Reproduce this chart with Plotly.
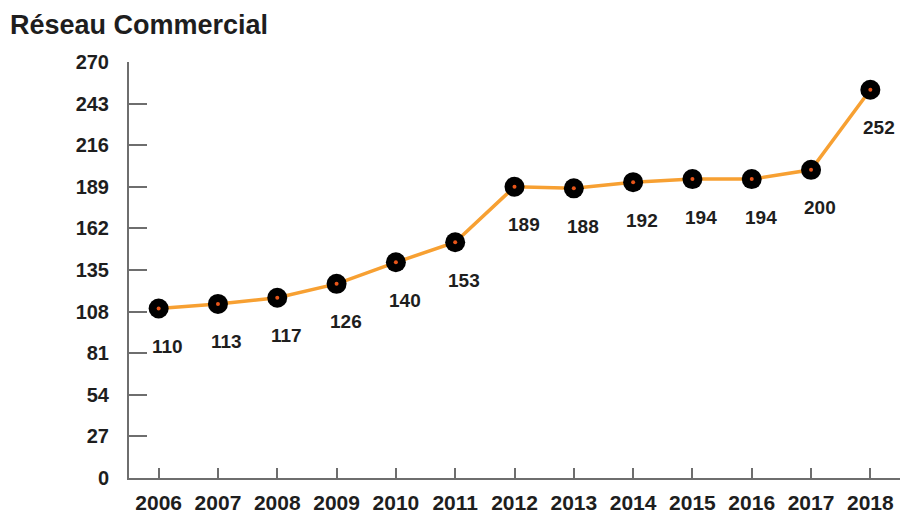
import plotly.graph_objects as go

years = [2006, 2007, 2008, 2009, 2010, 2011, 2012, 2013, 2014, 2015, 2016, 2017, 2018]
agencies = [110, 113, 117, 126, 140, 153, 189, 188, 192, 194, 194, 200, 252]
y_ticks = [0, 27, 54, 81, 108, 135, 162, 189, 216, 243, 270]

FONT = "Liberation Sans, Arial, sans-serif"
AXIS_COLOR = "#6e6e6e"
LINE_COLOR = "#f7a032"
TEXT_COLOR = "#1e1e1e"

fig = go.Figure()

# Orange connecting line
fig.add_trace(go.Scatter(
    x=years, y=agencies, mode="lines",
    line=dict(color=LINE_COLOR, width=3.5),
    hoverinfo="skip", cliponaxis=False,
))
# Black round markers
fig.add_trace(go.Scatter(
    x=years, y=agencies, mode="markers",
    marker=dict(color="black", size=20, line=dict(width=0)),
    cliponaxis=False,
))
# Small orange centre dots
fig.add_trace(go.Scatter(
    x=years, y=agencies, mode="markers",
    marker=dict(color="#e8561a", size=4, line=dict(width=0)),
    hoverinfo="skip", cliponaxis=False,
))

# Value labels below each point
for yr, v in zip(years, agencies):
    fig.add_annotation(
        x=yr, y=v, text=str(v), showarrow=False,
        xshift=9, yshift=-38,
        font=dict(family=FONT, size=19, color=TEXT_COLOR, weight="bold"),
    )

fig.update_layout(
    width=901, height=518,
    margin=dict(l=129, r=1, t=62, b=40),
    paper_bgcolor="white", plot_bgcolor="white",
    showlegend=False,
    font=dict(family=FONT, size=20, color=TEXT_COLOR),
    title=dict(
        text="<b>Réseau Commercial</b>",
        x=0.011, xanchor="left", y=0.953, yanchor="middle",
        font=dict(family=FONT, size=27, color=TEXT_COLOR),
    ),
    xaxis=dict(
        range=[2005.5, 2018.5],
        tickmode="array", tickvals=years, ticktext=[str(y) for y in years],
        showgrid=False, zeroline=False,
        showline=True, linecolor=AXIS_COLOR, linewidth=2,
        ticks="inside", ticklen=10, tickwidth=2, tickcolor=AXIS_COLOR,
        tickfont=dict(family=FONT, size=21, color=TEXT_COLOR, weight="bold"),
        ticklabelstandoff=5,
    ),
    yaxis=dict(
        range=[0, 270],
        tickmode="array", tickvals=y_ticks,
        showgrid=False, zeroline=False,
        showline=True, linecolor=AXIS_COLOR, linewidth=2,
        ticks="inside", ticklen=18, tickwidth=2, tickcolor=AXIS_COLOR,
        tickfont=dict(family=FONT, size=20, color=TEXT_COLOR, weight="bold"),
        ticklabelstandoff=14,
    ),
)

fig.write_html("out.html")
